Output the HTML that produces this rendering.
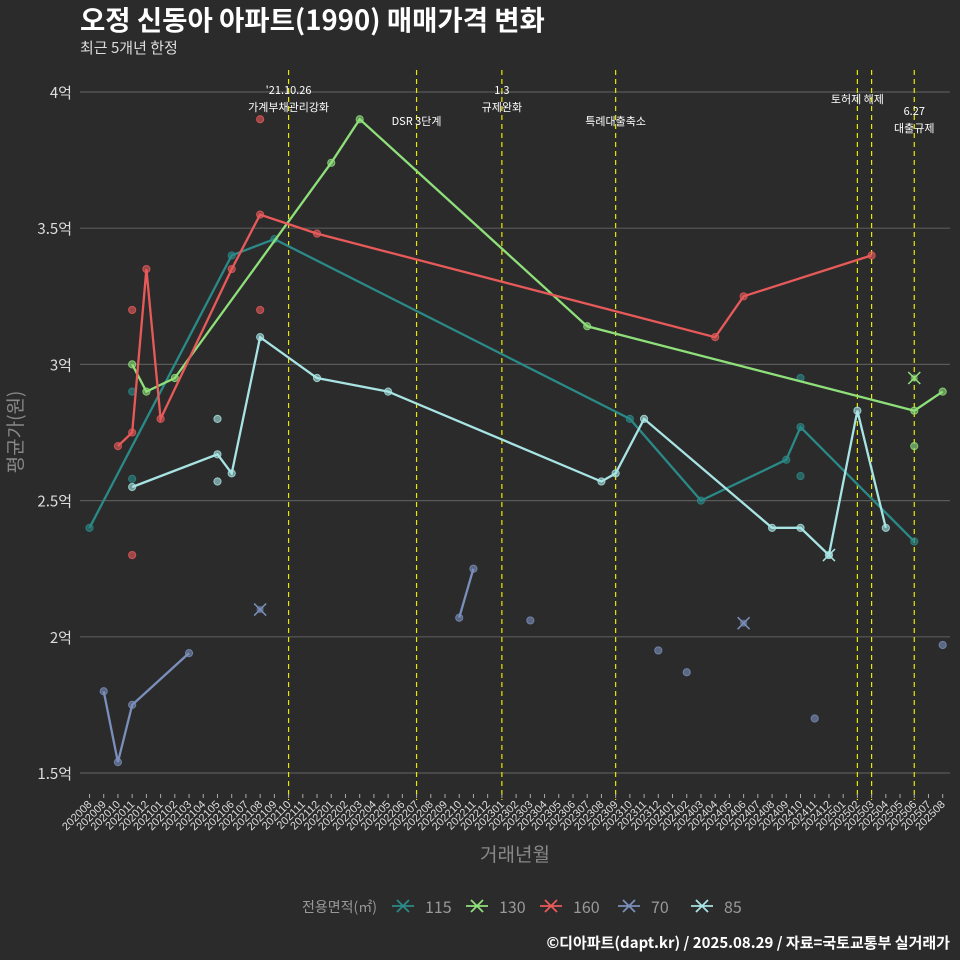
<!DOCTYPE html>
<html><head><meta charset="utf-8">
<style>
body{margin:0;background:#2b2b2b;}
svg{display:block;font-family:"Liberation Sans","Noto Sans CJK KR",sans-serif;}
.kr{font-family:"Noto Sans CJK KR","Liberation Sans",sans-serif;}
</style></head>
<body>
<svg id="chart" width="960" height="960" viewBox="0 0 960 960" xmlns="http://www.w3.org/2000/svg">
<rect x="0" y="0" width="960" height="960" fill="#2b2b2b"/>
<text class="kr" x="80" y="30" fill="#ffffff" font-size="27.5" font-weight="bold">오정 신동아 아파트(1990) 매매가격 변화</text>
<text class="kr" x="80" y="53" fill="#dddddd" font-size="15">최근 5개년 한정</text>
<g id="grid"></g><g id="events"></g><g id="series"></g><g id="axes"></g>
<text class="kr" x="515" y="861" fill="#888" font-size="19" text-anchor="middle">거래년월</text>
<text class="kr" x="22" y="432" fill="#888" font-size="19" text-anchor="middle" transform="rotate(-90 22 432)">평균가(원)</text>
<g id="legend"></g>
<text class="kr" x="950" y="948" fill="#ffffff" font-size="15" font-weight="bold" text-anchor="end">©디아파트(dapt.kr) / 2025.08.29 / 자료=국토교통부 실거래가</text>
</svg>
<script>
const months = [];
for (let y = 2020, m = 8; months.length < 61; ) { months.push(y + String(m).padStart(2, '0')); m++; if (m > 12) { m = 1; y++; } }
const yTicks = [1.5, 2, 2.5, 3, 3.5, 4];
const yTickLabels = ['1.5억', '2억', '2.5억', '3억', '3.5억', '4억'];
const seriesNames = ['115', '130', '160', '70', '85'];
const seriesColors = ['#2a8a88', '#8fe07a', '#e85a5a', '#7b8fbc', '#a8e4e4'];
const line115 = [[0,2.4],[10,3.4],[13,3.46],[38,2.8],[43,2.5],[49,2.65],[50,2.77],[58,2.35]];
const line130 = [[3,3.0],[4,2.9],[6,2.95],[17,3.74],[19,3.9],[35,3.14],[58,2.83],[60,2.9]];
const line160 = [[2,2.7],[3,2.75],[4,3.35],[5,2.8],[10,3.35],[12,3.55],[16,3.48],[44,3.1],[46,3.25],[55,3.4]];
const line70 = [[1,1.8],[2,1.54],[3,1.75],[7,1.94],null,[26,2.07],[27,2.25]];
const line85 = [[3,2.55],[9,2.67],[10,2.6],[12,3.1],[16,2.95],[21,2.9],[36,2.57],[37,2.6],[39,2.8],[48,2.4],[50,2.4],[52,2.3],[54,2.83],[56,2.4]];
const dots115 = [[3,2.9],[3,2.58],[50,2.95],[50,2.59]];
const dots130 = [[58,2.7]];
const dots160 = [[3,3.2],[3,2.3],[12,3.9],[12,3.2]];
const dots70 = [[31,2.06],[40,1.95],[42,1.87],[51,1.70],[60,1.97]];
const dots85 = [[9,2.8],[9,2.57]];
const cross130 = [[58,2.95]];
const cross70 = [[12,2.1],[46,2.05]];
const cross85 = [[52,2.3]];
const eventIdx = [14, 23, 29, 37, 54, 55, 58];
const eventLabels = [["'21.10.26","가계부채관리강화"],["DSR 3단계"],["1.3","규제완화"],["특례대출축소"],["토허제 해제"],[],["6.27","대출규제"]];
const eventLabelY = [[94,111],[125],[94,111],[125],[103],[],[115,132]];

const NS = 'http://www.w3.org/2000/svg';
const X0 = 89.5, XS = 14.22, Y4 = 92, YS = 272.4;
const xs = i => X0 + XS * i;
const ys = v => Y4 + (4 - v) * YS;
function mk(tag, attrs, parent) { const e = document.createElementNS(NS, tag); for (const k in attrs) e.setAttribute(k, attrs[k]); parent.appendChild(e); return e; }
const grid = document.getElementById('grid'), axes = document.getElementById('axes'), ev = document.getElementById('events'), ser = document.getElementById('series'), leg = document.getElementById('legend');

yTicks.forEach((t, k) => {
  const g = mk('line', {x1: 80, x2: 950, y1: ys(t), y2: ys(t), stroke: '#5a5a5a', 'stroke-width': 1.2}, grid);
  
  
  const tl = mk('text', {x: 72, y: ys(t) + 6, fill: '#dddddd', 'font-size': 15, 'text-anchor': 'end', class: 'kr'}, axes);
  tl.textContent = yTickLabels[k];
  
  
});
months.forEach((m, i) => {
  const x = xs(i);
  const tk = mk('line', {x1: x, x2: x, y1: 794, y2: 798, stroke: '#aaa'}, axes);
  
  
  const t = mk('text', {x: x + 3, y: 805, fill: '#dddddd', 'font-size': 11, 'text-anchor': 'end', transform: `rotate(-45 ${x + 3} 805)`}, axes);
  t.textContent = m;
  
  
});
eventIdx.forEach((i, k) => {
  const x = xs(i);
  const l = mk('line', {x1: x, x2: x, y1: 70, y2: 800, stroke: '#e8e800', 'stroke-width': 1.2, 'stroke-dasharray': '5,4'}, ev);
  
  
  eventLabels[k].forEach((s, j) => {
    const t = mk('text', {x: x, y: eventLabelY[k][j], fill: '#ffffff', 'font-size': 11, 'text-anchor': 'middle', class: 'kr'}, ev);
    t.textContent = s;
    
    
  });
});
const lines = [line115, line130, line160, line70, line85];
const dots = [dots115, dots130, dots160, dots70, dots85];
const crosses = [[], cross130, [], cross70, cross85];
lines.forEach((ln, s) => {
  const c = seriesColors[s];
  let d = '', pen = false;
  ln.forEach(p => { if (!p) { pen = false; return; } d += (pen ? 'L' : 'M') + xs(p[0]).toFixed(1) + ',' + ys(p[1]).toFixed(1); pen = true; });
  const path = mk('path', {d: d, fill: 'none', stroke: c, 'stroke-width': 2.3}, ser);
  
  
  ln.concat(dots[s]).forEach(p => { if (!p) return;
    const ci = mk('circle', {cx: xs(p[0]), cy: ys(p[1]), r: 3.6, fill: c, 'fill-opacity': 0.6, stroke: c, 'stroke-opacity': 0.8}, ser);
    
    
  });
  crosses[s].forEach(p => {
    const x = xs(p[0]), y = ys(p[1]);
    const cr = mk('path', {d: `M${x-6},${y-6}L${x+6},${y+6}M${x-6},${y+6}L${x+6},${y-6}`, stroke: c, 'stroke-width': 1.5}, ser);
    
    
    mk('circle', {cx: x, cy: y, r: 3.6, fill: c, 'fill-opacity': 0.6}, ser);
  });
});
const lt = mk('text', {x: 302, y: 912, fill: '#999', 'font-size': 14, class: 'kr'}, leg);
lt.textContent = '전용면적(㎡)';


const legX = [392, 466, 540, 618, 691];
seriesNames.forEach((n, s) => {
  const g = mk('g', {}, leg);
  
  
  const x = legX[s], y = 906, c = seriesColors[s];
  mk('path', {d: `M${x},${y}H${x+22}M${x+5},${y-6}L${x+17},${y+6}M${x+5},${y+6}L${x+17},${y-6}`, stroke: c, 'stroke-width': 1.8}, g);
  const t = mk('text', {x: x + 33, y: 913, fill: '#999', 'font-size': 16, class: 'kr'}, g);
  t.textContent = n;
});
</script>
</body></html>
